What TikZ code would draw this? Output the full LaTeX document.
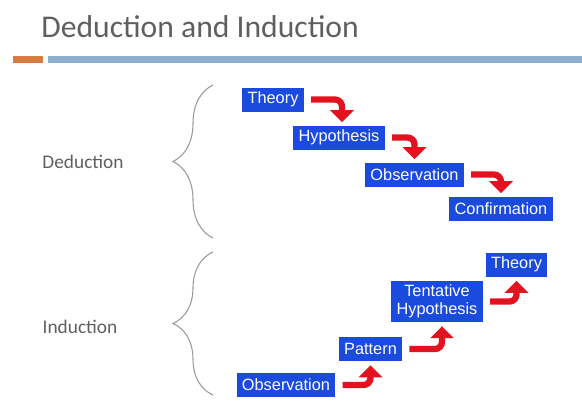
\documentclass[tikz,border=0pt]{standalone}
\usepackage{fontspec}
\setmainfont{Carlito}
\newfontfamily\boxfont{Liberation Sans}
\definecolor{SlideGray}{RGB}{95,95,95}
\definecolor{SlideBlue}{RGB}{26,74,222}
\definecolor{SlideRed}{RGB}{228,18,32}
\definecolor{BarBlue}{RGB}{142,176,206}
\definecolor{BarOrange}{RGB}{214,124,66}
\usetikzlibrary{
    arrows.meta,
    positioning,
    decorations.pathreplacing,
}

\begin{document}
\begin{tikzpicture}[
    x=0.02cm, y=-0.02cm,
    termbox/.style={rectangle, fill=SlideBlue, text=white, font=\boxfont\fontsize{9.3}{10.5}\selectfont, minimum height=0.48cm, inner xsep=3pt, inner ysep=2pt, align=center},
    side/.style={text=SlideGray, font=\fontsize{11}{13}\selectfont},
    turn/.style={-{Triangle[width=0.46cm, length=0.24cm]}, line width=3.6pt, SlideRed, rounded corners=4pt, shorten <=0.14cm},
    curly/.style={decorate, decoration={brace, amplitude=0.8cm}, gray!80, line width=0.6pt}
]
    \useasboundingbox (0,0) rectangle (582,403);
    % title and bar
    \node[text=SlideGray, font=\fontsize{18}{21}\selectfont, anchor=base west, inner sep=0pt] (title) at (41,37) {Deduction and Induction};
    \fill[BarOrange] (13,56) rectangle (43,63);
    \fill[BarBlue] (48,56) rectangle (582,63);
    % deduction
    \draw[curly] (213,238) -- (213,85);
    \node[side] (ded) at (83,162) {Deduction};
    \node[termbox] (dtheo) at (273,99.5) {Theory};
    \node[termbox] (dhyp)  at (339,137.5) {Hypothesis};
    \node[termbox] (dobs)  at (414.5,174.5) {Observation};
    \node[termbox] (dconf) at (501,208.5) {Confirmation};
    \draw[turn] (dtheo.east) -| ([xshift=0.06cm, yshift=0.06cm]dhyp.north);
    \draw[turn] (dhyp.east) -| ([yshift=0.06cm]dobs.north);
    \draw[turn] (dobs.east) -| ([yshift=0.06cm]dconf.north);
    % induction
    \draw[curly] (213,395) -- (213,252);
    \node[side] (ind) at (80,327) {Induction};
    \node[termbox] (iobs)  at (286,385) {Observation};
    \node[termbox] (ipat)  at (370.5,349) {Pattern};
    \node[termbox] (ihyp)  at (437,301.5) {Tentative\\Hypothesis};
    \node[termbox] (itheo) at (516.5,264.5) {Theory};
    \draw[turn] (iobs.east) -| ([yshift=-0.08cm]ipat.south);
    \draw[turn] (ipat.east) -| ([xshift=0.1cm, yshift=-0.08cm]ihyp.south);
    \draw[turn] (ihyp.east) -| ([yshift=-0.08cm]itheo.south);
\end{tikzpicture}
\end{document}
